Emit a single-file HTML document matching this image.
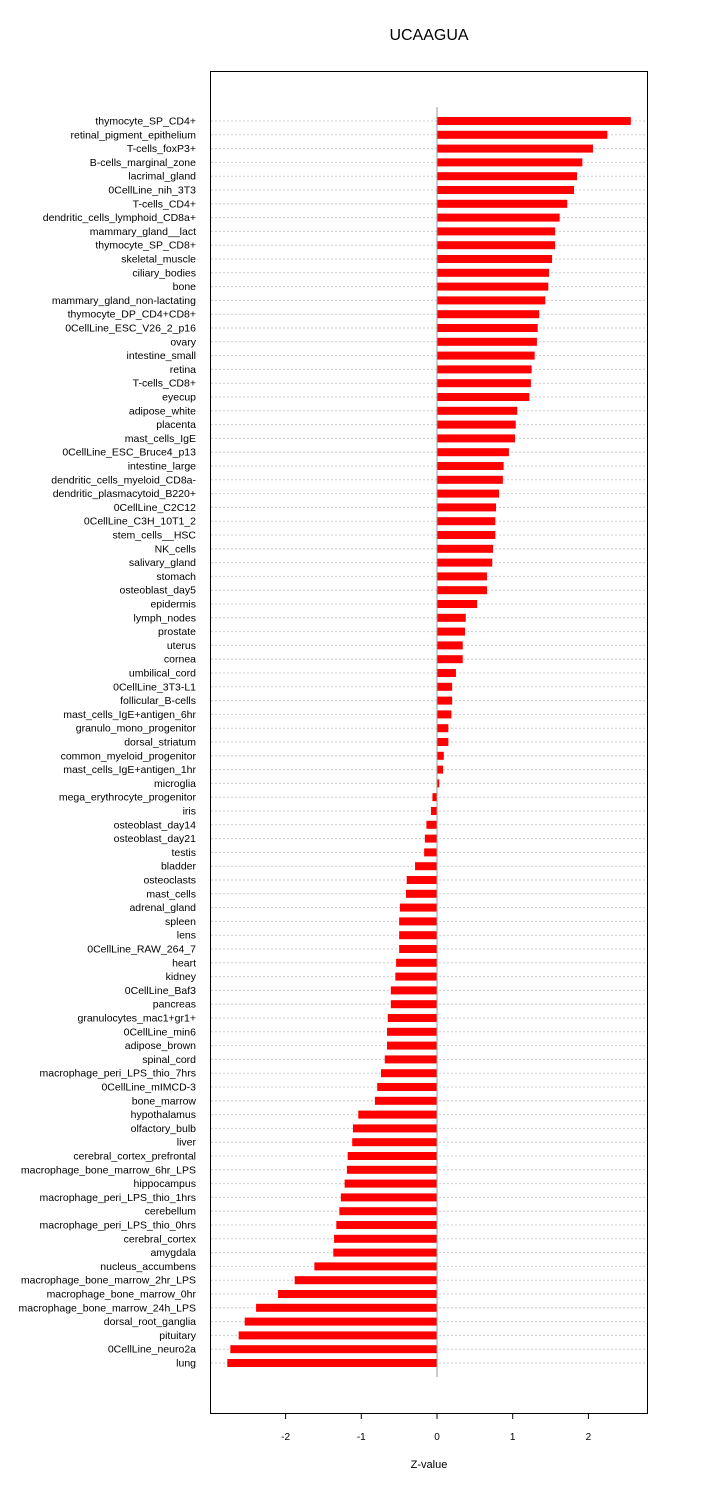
<!DOCTYPE html>
<html><head><meta charset="utf-8"><style>
body{margin:0;background:#fff;}
svg{display:block;font-family:"Liberation Sans",sans-serif;}
</style></head><body>
<svg id="chart" width="720" height="1485">
<text x="429" y="40" font-size="16" text-anchor="middle">UCAAGUA</text>
<rect x="210.5" y="71.5" width="437" height="1342" fill="none" stroke="#000" stroke-width="1"/>
<g id="grid"></g><g id="bars"></g><g id="labels"></g><g id="xaxis"></g>
<text x="429" y="1468" font-size="11" text-anchor="middle">Z-value</text>
</svg>
<script>
const categories=["thymocyte_SP_CD4+","retinal_pigment_epithelium","T-cells_foxP3+","B-cells_marginal_zone","lacrimal_gland","0CellLine_nih_3T3","T-cells_CD4+","dendritic_cells_lymphoid_CD8a+","mammary_gland__lact","thymocyte_SP_CD8+","skeletal_muscle","ciliary_bodies","bone","mammary_gland_non-lactating","thymocyte_DP_CD4+CD8+","0CellLine_ESC_V26_2_p16","ovary","intestine_small","retina","T-cells_CD8+","eyecup","adipose_white","placenta","mast_cells_IgE","0CellLine_ESC_Bruce4_p13","intestine_large","dendritic_cells_myeloid_CD8a-","dendritic_plasmacytoid_B220+","0CellLine_C2C12","0CellLine_C3H_10T1_2","stem_cells__HSC","NK_cells","salivary_gland","stomach","osteoblast_day5","epidermis","lymph_nodes","prostate","uterus","cornea","umbilical_cord","0CellLine_3T3-L1","follicular_B-cells","mast_cells_IgE+antigen_6hr","granulo_mono_progenitor","dorsal_striatum","common_myeloid_progenitor","mast_cells_IgE+antigen_1hr","microglia","mega_erythrocyte_progenitor","iris","osteoblast_day14","osteoblast_day21","testis","bladder","osteoclasts","mast_cells","adrenal_gland","spleen","lens","0CellLine_RAW_264_7","heart","kidney","0CellLine_Baf3","pancreas","granulocytes_mac1+gr1+","0CellLine_min6","adipose_brown","spinal_cord","macrophage_peri_LPS_thio_7hrs","0CellLine_mIMCD-3","bone_marrow","hypothalamus","olfactory_bulb","liver","cerebral_cortex_prefrontal","macrophage_bone_marrow_6hr_LPS","hippocampus","macrophage_peri_LPS_thio_1hrs","cerebellum","macrophage_peri_LPS_thio_0hrs","cerebral_cortex","amygdala","nucleus_accumbens","macrophage_bone_marrow_2hr_LPS","macrophage_bone_marrow_0hr","macrophage_bone_marrow_24h_LPS","dorsal_root_ganglia","pituitary","0CellLine_neuro2a","lung"];
const values=[2.56,2.25,2.06,1.92,1.85,1.81,1.72,1.62,1.56,1.56,1.52,1.48,1.47,1.43,1.35,1.33,1.32,1.29,1.25,1.24,1.22,1.06,1.04,1.03,0.95,0.88,0.87,0.82,0.78,0.77,0.77,0.74,0.73,0.66,0.66,0.53,0.38,0.37,0.34,0.34,0.25,0.20,0.20,0.19,0.15,0.15,0.09,0.08,0.03,-0.06,-0.08,-0.14,-0.16,-0.17,-0.29,-0.40,-0.41,-0.49,-0.50,-0.50,-0.50,-0.54,-0.55,-0.61,-0.61,-0.65,-0.66,-0.66,-0.69,-0.74,-0.79,-0.82,-1.04,-1.11,-1.12,-1.18,-1.19,-1.22,-1.27,-1.29,-1.33,-1.36,-1.37,-1.62,-1.88,-2.10,-2.39,-2.54,-2.62,-2.73,-2.77];
const ticks=[-2,-1,0,1,2];
const NS="http://www.w3.org/2000/svg";
const x=v=>437+v*75.7;
const y=i=>121+i*(1242/(categories.length-1));
function mk(t,a,p){const e=document.createElementNS(NS,t);for(const k in a)e.setAttribute(k,a[k]);p.appendChild(e);return e;}
const grid=document.getElementById('grid'),bars=document.getElementById('bars'),labels=document.getElementById('labels'),xa=document.getElementById('xaxis');
categories.forEach((c,i)=>{
  const yy=y(i);
  const g=mk('line',{x1:211,x2:647,y1:yy,y2:yy,stroke:'#ccc','stroke-dasharray':'2,2','stroke-width':1},grid);
  
  
  const v=values[i];
  const b=mk('rect',{x:Math.min(x(0),x(v)),y:yy-4,width:Math.abs(x(v)-x(0)),height:8,fill:'#ff0000'},bars);
  
  
  const t=mk('text',{x:196,y:yy+3.5,'font-size':10.5,'text-anchor':'end'},labels);
  t.textContent=c;
  
  
});
const z=mk('line',{x1:x(0),x2:x(0),y1:107,y2:1377,stroke:'#999','stroke-width':1},bars);


ticks.forEach(v=>{
  const l=mk('line',{x1:x(v),x2:x(v),y1:1413,y2:1419,stroke:'#000'},xa);
  
  
  const t=mk('text',{x:x(v),y:1440,'font-size':10,'text-anchor':'middle'},xa);
  t.textContent=v;
  
  
});
</script>
</body></html>
